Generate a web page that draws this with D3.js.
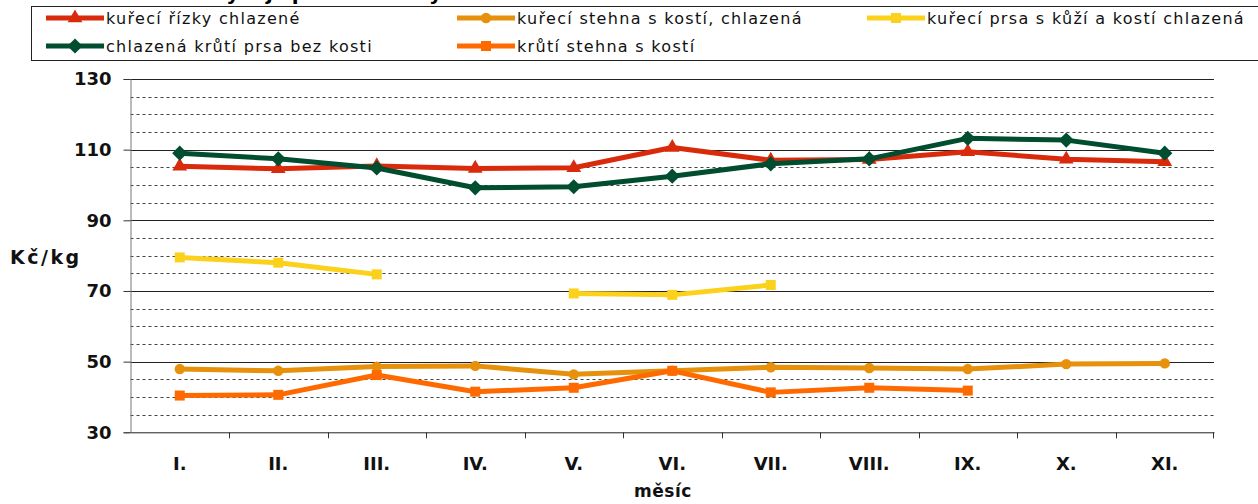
<!DOCTYPE html>
<html>
<head>
<meta charset="utf-8">
<script src="https://cdn.jsdelivr.net/npm/d3@7"></script>
<style>
  body { margin: 0; background: #fff; }
  text { font-family: "DejaVu Sans", Verdana, sans-serif; }
</style>
</head>
<body>
<script>
// data (Kč/kg per month)
const months = ["I.", "II.", "III.", "IV.", "V.", "VI.", "VII.", "VIII.", "IX.", "X.", "XI."];
const rizky = [105.3, 104.6, 105.4, 104.7, 104.9, 110.6, 107.0, 107.2, 109.4, 107.3, 106.6];
const stehnaKure = [47.9, 47.4, 48.6, 48.8, 46.4, 47.4, 48.4, 48.2, 47.9, 49.3, 49.5];
const prsaKuze = [79.5, 78.0, 74.7, null, 69.3, 68.9, 71.7, null, null, null, null];
const prsaKruti = [109.0, 107.4, 104.8, 99.2, 99.5, 102.5, 106.0, 107.4, 113.2, 112.7, 109.0];
const stehnaKruti = [40.4, 40.6, 46.2, 41.5, 42.6, 47.4, 41.3, 42.6, 41.8, null, null];
const yTicks = [30, 50, 70, 90, 110, 130];

const series = [
  {name: "kuřecí řízky chlazené", values: rizky, color: "#da2a0c", marker: "triangle"},
  {name: "kuřecí stehna s kostí, chlazená", values: stehnaKure, color: "#e6900c", marker: "circle"},
  {name: "kuřecí prsa s kůží a kostí chlazená", values: prsaKuze, color: "#fcd11c", marker: "square"},
  {name: "chlazená krůtí prsa bez kosti", values: prsaKruti, color: "#004d30", marker: "diamond"},
  {name: "krůtí stehna s kostí", values: stehnaKruti, color: "#ff6a00", marker: "square"}
];

const width = 1258, height = 504;
const plot = {left: 130.5, right: 1214, top: 79, bottom: 432.3};

const svg = d3.select("body").append("svg")
    .attr("width", width)
    .attr("height", height);

// scales
const x = d3.scaleBand()
    .domain(months)
    .range([plot.left, plot.right])
    .padding(0);

const y = d3.scaleLinear()
    .domain([30, 130])
    .range([plot.bottom, plot.top]);

// title (only its lowest part is inside the picture, as in the original)
svg.append("text")
    .attr("x", 450)
    .attr("y", -0.5)
    .attr("text-anchor", "middle")
    .style("font-size", "20px")
    .style("font-weight", "bold")
    .text("Vývoj spotřebitelských cen drůbeže v roce");

// minor dashed grid every 5
const minor = d3.range(35, 130, 5).filter(v => !yTicks.includes(v));
svg.append("g").selectAll("line")
    .data(minor)
    .enter().append("line")
    .attr("x1", plot.left).attr("x2", plot.right)
    .attr("y1", d => Math.round(y(d)) + 0.5).attr("y2", d => Math.round(y(d)) + 0.5)
    .attr("stroke", "#444")
    .attr("stroke-dasharray", "3,3");

// major solid grid
svg.append("g").selectAll("line")
    .data(yTicks.slice(1))
    .enter().append("line")
    .attr("x1", plot.left).attr("x2", plot.right)
    .attr("y1", d => Math.round(y(d)) + 0.5).attr("y2", d => Math.round(y(d)) + 0.5)
    .attr("stroke", "#222");

// y axis
const yAxis = svg.append("g")
    .attr("transform", `translate(${plot.left},0)`)
    .call(d3.axisLeft(y).tickValues(yTicks).tickSize(7).tickPadding(12));
yAxis.select(".domain").attr("stroke", "#777");
yAxis.selectAll(".tick line").attr("stroke", "#333");
yAxis.selectAll(".tick text")
    .attr("fill", "#111")
    .style("font-size", "18px")
    .style("font-weight", "bold")
    .style("font-family", "'DejaVu Sans', Verdana, sans-serif");

// x axis
const xAxis = svg.append("g")
    .attr("transform", `translate(0,${plot.bottom})`)
    .call(d3.axisBottom(x).tickSize(0).tickPadding(25));
xAxis.select(".domain").attr("stroke", "#222");
xAxis.selectAll(".tick text")
    .attr("fill", "#111")
    .style("font-size", "18px")
    .style("font-weight", "bold")
    .style("font-family", "'DejaVu Sans', Verdana, sans-serif");

// category boundary ticks
svg.append("g").selectAll("line")
    .data(months.slice(1).concat(["end"]))
    .enter().append("line")
    .attr("x1", d => d === "end" ? plot.right - 0.5 : Math.round(x(d)) + 0.5)
    .attr("x2", d => d === "end" ? plot.right - 0.5 : Math.round(x(d)) + 0.5)
    .attr("y1", plot.bottom)
    .attr("y2", plot.bottom + 6)
    .attr("stroke", "#333");

// axis titles
svg.append("text")
    .attr("x", 10)
    .attr("y", 264)
    .style("font-size", "19px")
    .style("font-weight", "bold")
    .style("letter-spacing", "2.5px")
    .attr("fill", "#111")
    .text("Kč/kg");

svg.append("text")
    .attr("x", 663)
    .attr("y", 497)
    .attr("text-anchor", "middle")
    .style("font-size", "17px")
    .style("font-weight", "bold")
    .style("letter-spacing", "0.5px")
    .attr("fill", "#111")
    .text("měsíc");

// marker shapes (diamond = square turned 45°)
const symbolFor = {
  triangle: {gen: d3.symbol().type(d3.symbolTriangle).size(95), rot: 0},
  circle: {gen: d3.symbol().type(d3.symbolCircle).size(85), rot: 0},
  square: {gen: d3.symbol().type(d3.symbolSquare).size(100), rot: 0},
  diamond: {gen: d3.symbol().type(d3.symbolSquare).size(115), rot: 45}
};

const line = d3.line()
    .defined(d => d != null)
    .x((d, i) => x(months[i]) + x.bandwidth() / 2)
    .y(d => y(d));

// lines and markers
series.forEach(s => {
  const g = svg.append("g");
  const sym = symbolFor[s.marker];
  g.append("path")
      .datum(s.values)
      .attr("fill", "none")
      .attr("stroke", s.color)
      .attr("stroke-width", 5)
      .attr("stroke-linejoin", "round")
      .attr("d", line);

  g.selectAll("path.mk")
      .data(s.values.map((v, i) => ({v, i})).filter(d => d.v != null))
      .enter().append("path")
      .attr("class", "mk")
      .attr("d", sym.gen)
      .attr("transform", d => `translate(${x(months[d.i]) + x.bandwidth() / 2},${y(d.v)}) rotate(${sym.rot})`)
      .attr("fill", s.color);
});

// legend box
svg.append("rect")
    .attr("x", 31.5)
    .attr("y", 6.5)
    .attr("width", 1240)
    .attr("height", 54)
    .attr("fill", "#fff")
    .attr("stroke", "#222");

const legendPos = [
  {x: 46, y: 18}, {x: 457, y: 18}, {x: 867, y: 18},
  {x: 46, y: 46}, {x: 457, y: 46}
];

series.forEach((s, i) => {
  const p = legendPos[i];
  const sym = symbolFor[s.marker];
  const g = svg.append("g").attr("transform", `translate(${p.x},${p.y})`);
  g.append("line")
      .attr("x1", 0).attr("x2", 58)
      .attr("y1", 0).attr("y2", 0)
      .attr("stroke", s.color)
      .attr("stroke-width", 5);
  g.append("path")
      .attr("d", sym.gen)
      .attr("transform", `translate(29,0) rotate(${sym.rot})`)
      .attr("fill", s.color);
  g.append("text")
      .attr("x", 60)
      .attr("y", 0)
      .attr("dy", "0.35em")
      .style("font-size", "16px")
      .style("letter-spacing", "1.3px")
      .attr("fill", "#111")
      .text(s.name);
});
</script>
</body>
</html>
